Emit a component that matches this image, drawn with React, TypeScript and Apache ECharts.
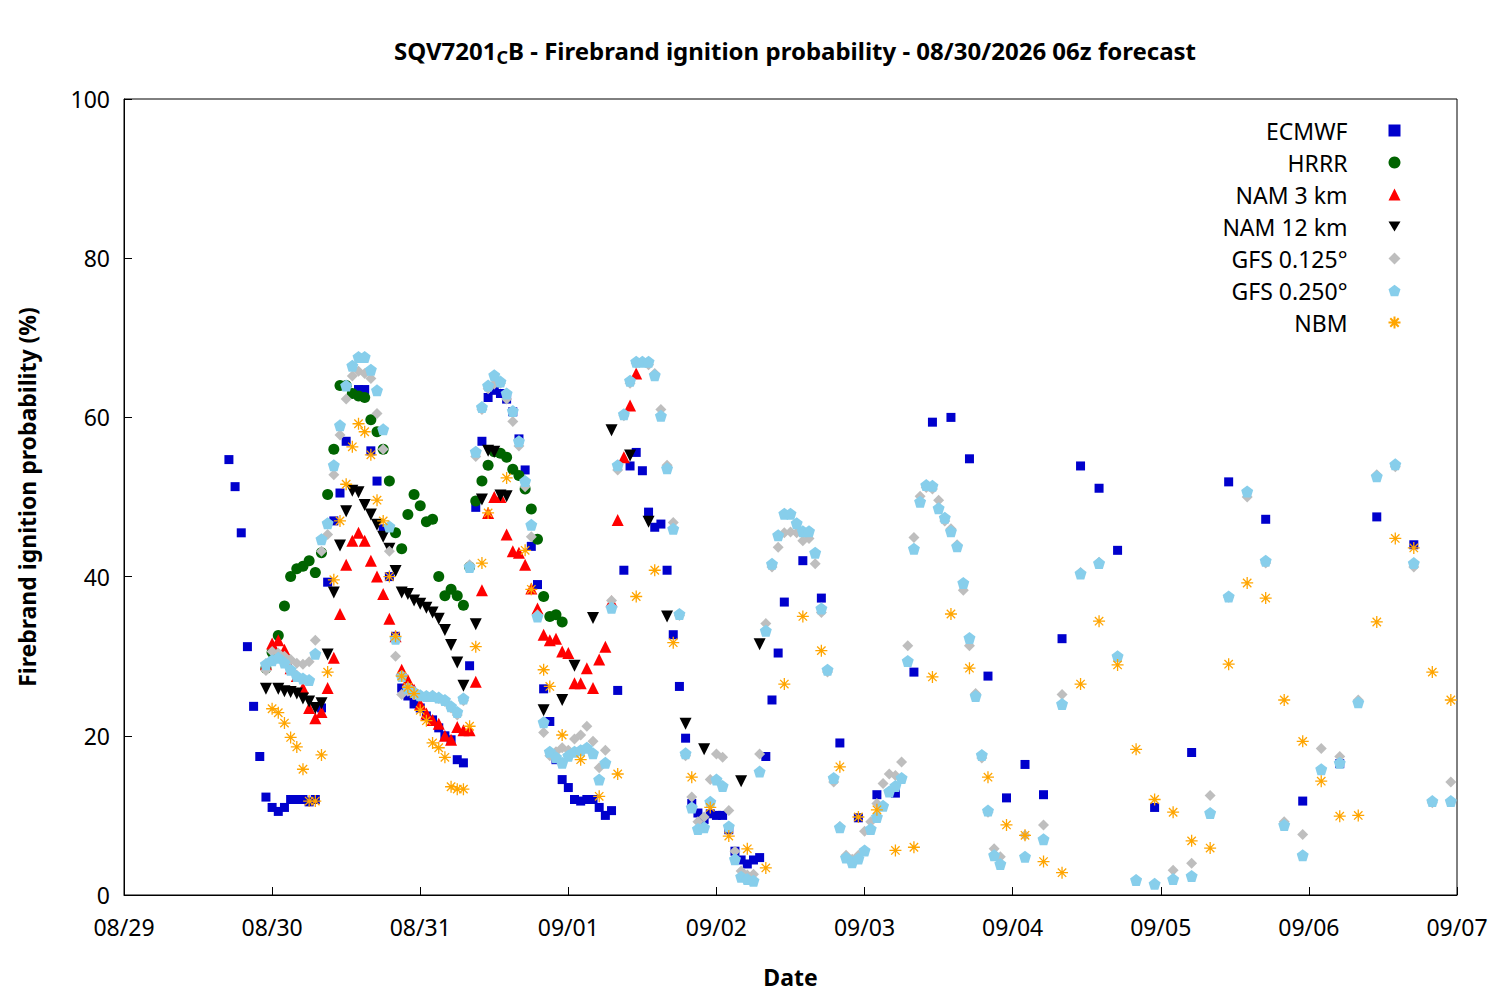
import { useEffect, useRef } from "react";
import * as echarts from "echarts";

// hours since 08/29 00z
const dateLabels = ["08/29", "08/30", "08/31", "09/01", "09/02", "09/03", "09/04", "09/05", "09/06", "09/07"];

// hourly runs: [first hour, values...]
const ecmwfHourly = [17, 54.7, 51.3, 45.5, 31.2, 23.7, 17.4, 12.3, 11, 10.5, 11, 12, 12, 12, 11.7, 12,
  23.5, 39.3, 47, 50.5, 57, 63, 63.5, 63.5, 55.8, 52, 46, 40, 32.5, 26, 25, 24, 23.5, 22.5, 22, 21, 20, 19.5, 17, 16.6,
  28.8, 48.7, 57, 62.5, 63.4, 63, 62.3, 60.7, 57.3, 53.4, 43.8, 39, 25.9, 21.8, 17, 14.5, 13.5, 12, 11.8, 12, 12, 11, 10, 10.6,
  25.7, 40.8, 53.9, 55.6, 53.3, 48.1, 46.2, 46.6, 40.8, 32.7, 26.2, 19.7, 11.5, 10.3, 9.5, 10.2, 10, 10, 8.2, 5.5, 4.4, 3.9, 4.4, 4.7,
  17.4, 24.5, 30.4, 36.8];
const ecmwfSparse = [[110, 42], [113, 37.3], [116, 19.1], [119, 9.7], [122, 12.6], [125, 12.8], [128, 28], [131, 59.4], [134, 60],
  [137, 54.8], [140, 27.5], [143, 12.2], [146, 16.4], [149, 12.6], [152, 32.2], [155, 53.9], [158, 51.1], [161, 43.3], [167, 11],
  [173, 17.9], [179, 51.9], [185, 47.2], [191, 11.8], [197, 16.5], [203, 47.5], [209, 44]];

const hrrrHourly = [23, 28.5, 30.5, 32.6, 36.3, 40, 41, 41.3, 42, 40.5, 43, 50.3, 56, 64, 64, 63, 62.7, 62.5, 59.7, 58.2, 56, 52,
  45.5, 43.5, 47.8, 50.3, 48.9, 46.9, 47.2, 40, 37.6, 38.4, 37.6, 36.4, 41.2, 49.5, 52, 54, 55.7, 55.5, 55, 53.5, 52.7, 51, 48.5,
  44.7, 37.5, 35, 35.2, 34.3];

const nam3Hourly = [23, 29, 31.6, 32, 30.8, 28.5, 27.5, 26, 23.5, 22.2, 23, 26, 29.8, 35.3, 41.5, 44.5, 45.5, 44.5, 42, 40, 37.8,
  34.7, 32.5, 28.3, 27, 25.8, 24, 22.8, 22, 21.5, 20, 19.5, 21.1, 20.7, 20.7, 26.8, 38.3, 48, 50, 50, 45.3, 43.2, 43, 41.5, 38.5,
  36, 32.7, 32, 32.2, 30.6, 30.4, 26.6, 26.6, 28.5, 26, 29.6, 31.2, 36.9, 47.1, 55, 61.5, 65.5];

const nam12Points = [[23, 25.9], [25, 25.9], [26, 25.6], [27, 25.5], [28, 25.3], [29, 24.7], [30, 24.3], [31, 23.5], [32, 24.1],
  [33, 30.2], [34, 38], [35, 43.9], [36, 48.2], [37, 50.8], [38, 50.6], [39, 49], [40, 47.8], [41, 46.5], [42, 45], [43, 43.5],
  [44, 40.7], [45, 38], [46, 37.8], [47, 37], [48, 36.6], [49, 36.1], [50, 35.5], [51, 34.7], [52, 33.3], [53, 31.4], [54, 29.2],
  [55, 26.3], [57, 34], [58, 49.7], [59, 55.8], [60, 55.7], [61, 50.2], [62, 50.1], [68, 23.2], [71, 24.5], [73, 28.8],
  [76, 34.8], [79, 58.4], [82, 55.2], [85, 46.9], [88, 35], [91, 21.5], [94, 18.3], [100, 14.3], [103, 31.5]];

const gfs025Hourly = [23, 29, 29.5, 29.8, 29.2, 28.3, 27.5, 27.2, 27, 30.3, 44.7, 46.7, 54, 59, 64, 66.5, 67.6, 67.6, 66, 63.4,
  58.5, 46.3, 32.2, 27.5, 26, 25.5, 25.1, 25, 25, 24.8, 24.5, 23.7, 23, 24.7, 41.2, 55.7, 61.3, 64, 65.3, 64.5, 63, 60.8, 57,
  52, 46.5, 35, 21.7, 18, 17.3, 16.6, 17.5, 18, 18.2, 18.5, 17.8, 14.5, 16.6, 36.1, 54, 60.4, 64.6, 67, 67, 67, 65.3, 60.2,
  53.6, 46, 35.3, 17.8, 11, 8.3, 8.5, 11.7, 14.5, 13.7, 8.6, 4.5, 2.3, 2, 1.8, 15.5, 33.2, 41.6, 45.2, 47.9, 47.9, 46.7, 45.7,
  45.7, 43, 36, 28.3, 14.7, 8.5, 4.7, 4.1, 4.6, 5.6, 8.3, 9.8, 11.2, 13, 13.7, 14.7, 29.4, 43.5, 49.4, 51.5, 51.4, 48.6, 47.4,
  45.7, 43.8, 39.2, 32.3, 25, 17.6, 10.6, 5, 3.9];
const gfs025Sparse = [[146, 4.8], [149, 7], [152, 24], [155, 40.4], [158, 41.7], [161, 30], [164, 1.9], [167, 1.4], [170, 2],
  [173, 2.4], [176, 10.3], [179, 37.5], [182, 50.7], [185, 42], [188, 8.8], [191, 5], [194, 15.8], [197, 16.6], [200, 24.2],
  [203, 52.6], [206, 54.1], [209, 41.7], [212, 11.8], [215, 11.8]];

const gfs0125Hourly = [23, 28.2, 30.6, 30.4, 30, 29.6, 29.1, 29, 29.3, 32, 43.2, 45.3, 52.8, 57.8, 62.3, 65.2, 65.8, 65.5, 64.9,
  60.5, 56, 43.2, 30, 25.2, 25.6, 25.2, 25, 24.9, 25.1, 24.7, 24.3, 23.5, 22.6, 24.4, 41.5, 55.1, 61, 63.6, 64.2, 64.3, 62.3,
  59.5, 56.4, 51.3, 45, 35.2, 20.4, 17.5, 18, 18.5, 18.2, 19.6, 20.1, 21.2, 19.3, 16, 18.2, 37, 53.4, 60.2, 64.3, 66.8, 67, 66.6,
  65.5, 61, 54, 46.8, 35.1, 17.5, 12.3, 9.2, 9.8, 14.5, 17.7, 17.3, 10.6, 5.5, 3, 2.5, 2.6, 17.7, 34.1, 41.2, 43.7, 45.5, 45.6,
  45.5, 44.5, 44.8, 41.6, 35.5, 28, 14.2, 8.6, 5, 4.5, 5, 8, 9.2, 11.5, 14, 15.2, 15, 16.7, 31.3, 44.9, 50.1, 51.2, 51, 49.6,
  47, 46, 44, 38.3, 31.3, 25.3, 17.2, 10.4, 5.8, 4.8];
const gfs0125Sparse = [[146, 7.5], [149, 8.8], [152, 25.2], [155, 40.5], [158, 41.8], [161, 30], [164, 1.9], [167, 1.4],
  [170, 3.1], [173, 4], [176, 12.5], [179, 37.4], [182, 50], [185, 41.7], [188, 9.2], [191, 7.6], [194, 18.4], [197, 17.4],
  [200, 24.5], [203, 52.8], [206, 53.8], [209, 41.2], [212, 11.6], [215, 14.2]];

const nbmPoints = [[24, 23.4], [25, 22.9], [26, 21.6], [27, 19.8], [28, 18.6], [29, 15.8], [30, 11.8], [31, 11.8], [32, 17.6],
  [33, 28], [34, 39.6], [35, 47], [36, 51.6], [37, 56.3], [38, 59.2], [39, 58.2], [40, 55.3], [41, 49.6], [42, 47], [43, 40],
  [44, 32.5], [45, 27.5], [46, 26.1], [47, 25.3], [48, 23.2], [49, 21.9], [50, 19.1], [51, 18.5], [52, 17.3], [53, 13.6],
  [54, 13.3], [55, 13.3], [56, 21.2], [57, 31.2], [58, 41.7], [59, 48], [62, 52.4], [65, 43.3], [66, 38.4], [68, 28.3],
  [69, 26.2], [71, 20.1], [74, 17], [77, 12.4], [80, 15.2], [83, 37.5], [86, 40.8], [89, 31.7], [92, 14.8], [95, 11],
  [98, 7.4], [101, 5.8], [104, 3.4], [107, 26.5], [110, 35], [113, 30.7], [116, 16.1], [119, 9.8], [122, 10.7], [125, 5.6],
  [128, 6], [131, 27.4], [134, 35.3], [137, 28.5], [140, 14.8], [143, 8.8], [146, 7.5], [149, 4.2], [152, 2.8], [155, 26.5],
  [158, 34.4], [161, 28.9], [164, 18.3], [167, 12], [170, 10.4], [173, 6.8], [176, 5.9], [179, 29], [182, 39.2], [185, 37.3],
  [188, 24.5], [191, 19.3], [194, 14.3], [197, 9.9], [200, 10], [203, 34.3], [206, 44.8], [209, 43.6], [212, 28], [215, 24.5]];

function hourly(run: number[]) {
  const [start, ...vals] = run;
  return vals.map((v, i) => [start + i, v]);
}

const PENTAGON = "path://M0,-10L9.5,-3.1L5.9,8.1L-5.9,8.1L-9.5,-3.1Z";
const ASTERISK = "path://M0,-10L0,10M-10,0L10,0M-7,-7L7,7M-7,7L7,-7";
const DOWN_TRI = "path://M-10,-8L10,-8L0,9Z";
const FONT = "Noto Sans";

export default function App() {
  const ref = useRef<HTMLDivElement>(null);

  useEffect(() => {
    if (!ref.current) return;
    const chart = echarts.init(ref.current, null, { renderer: "svg" });
    const sc = (name: string, data: number[][], symbol: string, size: number, color: string, extra: any = {}) => ({
      name, type: "scatter", data, symbol, symbolSize: size, itemStyle: { color, opacity: 1 }, ...extra,
    });
    chart.setOption({
      animation: false,
      textStyle: { fontFamily: FONT },
      title: {
        text: "SQV7201{sub|C}B - Firebrand ignition probability - 08/30/2026 06z forecast",
        left: 790, top: 29, textAlign: "center",
        textStyle: {
          fontSize: 24, fontWeight: "bold", color: "#000", fontFamily: FONT,
          rich: { sub: { fontSize: 18, fontWeight: "bold", verticalAlign: "bottom", padding: [14, 0, 0, 0], fontFamily: FONT } },
        },
      },
      legend: {
        orient: "vertical", right: 92, top: 114, align: "right", itemGap: 9,
        itemWidth: 12, itemHeight: 12,
        textStyle: { fontSize: 23, color: "#000", fontFamily: FONT, padding: [0, 36, 0, 0] },
        data: [
          { name: "ECMWF" }, { name: "HRRR" }, { name: "NAM 3 km" }, { name: "NAM 12 km", icon: DOWN_TRI },
          { name: "GFS 0.125°" }, { name: "GFS 0.250°" }, { name: "NBM" },
        ],
      },
      grid: { left: 124, right: 43, top: 99, bottom: 105, show: true, borderColor: "#000", borderWidth: 1 },
      xAxis: {
        type: "value", min: 0, max: 216, interval: 24,
        name: "Date", nameLocation: "middle", nameGap: 70,
        nameTextStyle: { fontSize: 23, fontWeight: "bold", color: "#000", fontFamily: FONT },
        axisLine: { lineStyle: { color: "#000" } },
        axisTick: { inside: true, length: 8, lineStyle: { color: "#000" } },
        splitLine: { show: false },
        axisLabel: { fontSize: 23, color: "#000", margin: 20, formatter: (v: number) => dateLabels[Math.round(v / 24)] },
      },
      yAxis: {
        type: "value", min: 0, max: 100, interval: 20,
        name: "Firebrand ignition probability (%)", nameLocation: "middle", nameGap: 86,
        nameTextStyle: { fontSize: 23, fontWeight: "bold", color: "#000", fontFamily: FONT },
        axisLine: { lineStyle: { color: "#000" } },
        axisTick: { inside: true, length: 8, lineStyle: { color: "#000" } },
        splitLine: { show: false },
        axisLabel: { fontSize: 23, color: "#000", margin: 14 },
      },
      series: [
        sc("ECMWF", [...hourly(ecmwfHourly), ...ecmwfSparse], "rect", 9, "#0000cc"),
        sc("HRRR", hourly(hrrrHourly), "circle", 11, "#006400"),
        sc("NAM 3 km", hourly(nam3Hourly), "triangle", 12, "#ff0000"),
        sc("NAM 12 km", nam12Points, "triangle", 12, "#000000", { symbolRotate: 180 }),
        sc("GFS 0.125°", [...hourly(gfs0125Hourly), ...gfs0125Sparse], "diamond", 11, "#bebebe"),
        sc("GFS 0.250°", [...hourly(gfs025Hourly), ...gfs025Sparse], PENTAGON, 12, "#87ceeb"),
        sc("NBM", nbmPoints, ASTERISK, 12, "none", { itemStyle: { color: "none", borderColor: "#ffa500", borderWidth: 1.3, opacity: 1 } }),
      ],
    });
    return () => chart.dispose();
  }, []);

  return <div ref={ref} style={{ position: "absolute", left: 0, top: 0, width: 1500, height: 1000, background: "#fff" }} />;
}
